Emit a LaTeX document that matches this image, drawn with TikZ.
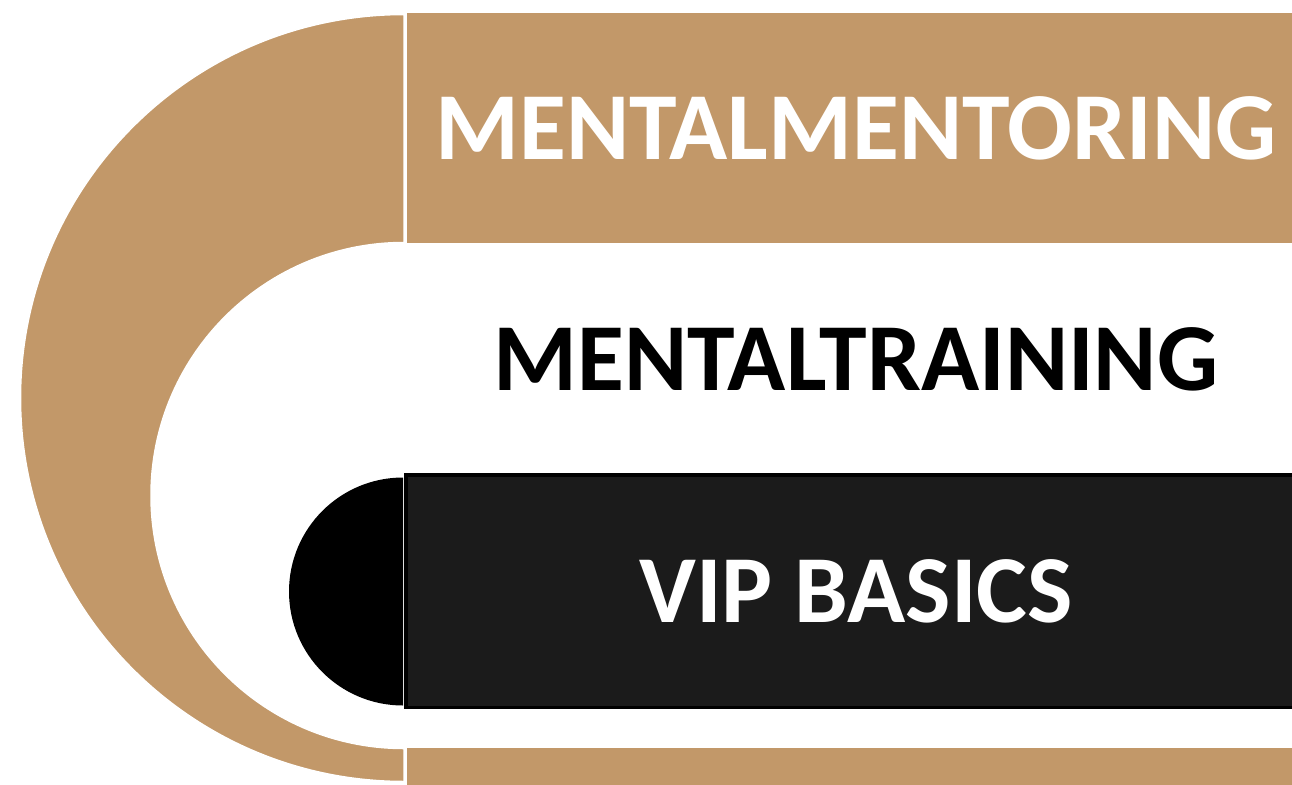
\documentclass[tikz,border=0pt]{standalone}
\usepackage{fontspec}
\setmainfont{Carlito}
\definecolor{goldtan}{HTML}{C29869}
\definecolor{darkbar}{HTML}{1B1B1B}

\begin{document}
\begin{tikzpicture}[
    x=1pt, y=-1pt,
    band/.style={fill=goldtan, draw=white, line width=1.5pt},
    bar/.style={rectangle, minimum width=900pt, inner sep=0pt, align=center},
    label/.style={font=\fontsize{96}{100}\selectfont\bfseries}
]
    \useasboundingbox (0,0) rectangle (1292,784);
    \clip (0,0) rectangle (1292,784);

    % Crescent
    \draw[band] (404,14.5) arc[start angle=270, end angle=90, radius=383.5]
        -- (404,748.5) arc[start angle=90, end angle=270, radius=253] -- cycle;

    % Half disc
    \fill[black] (403,477.5) arc[start angle=270, end angle=90, radius=114] -- cycle;

    % Bars
    \node[bar, band, minimum height=231pt, label, text=white] (mentoring) at (856,128.1) {MENTALMENTORING};
    \node[label, text=black] (training) at (856,359) {MENTALTRAINING};
    \node[bar, fill=darkbar, draw=black, line width=3.5pt, minimum width=900.5pt, minimum height=232.5pt,
        label, text=white] (basics) at (856,591.25) {VIP BASICS};
    \node[bar, band, minimum height=100pt] (base) at (856,797.3) {};

\end{tikzpicture}
\end{document}
